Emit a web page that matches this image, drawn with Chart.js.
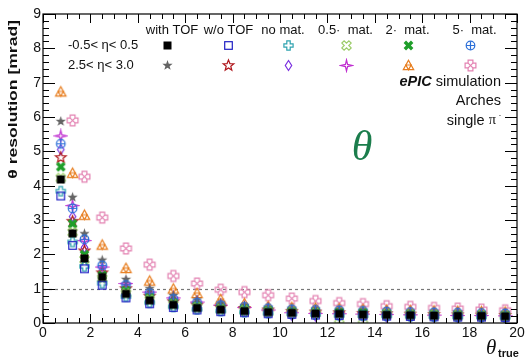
<!DOCTYPE html>
<html>
<head>
<meta charset="utf-8">
<script src="https://cdn.jsdelivr.net/npm/chart.js@4.4.0/dist/chart.umd.min.js"></script>
<style>
  html, body { margin: 0; padding: 0; background: #fff; }
  #wrap { width: 528px; height: 358px; }
</style>
</head>
<body>
<div id="wrap"><canvas id="chart" width="528" height="358"></canvas></div>
<script>
// theta_true bin centres
const thetaTrue = [0.75, 1.25, 1.75, 2.5, 3.5, 4.5, 5.5, 6.5, 7.5, 8.5, 9.5, 10.5, 11.5, 12.5, 13.5, 14.5, 15.5, 16.5, 17.5, 18.5, 19.5];

// -0.5 < eta < 0.5
const cenWithTof = [4.18, 2.61, 1.88, 1.34, 0.85, 0.66, 0.53, 0.44, 0.39, 0.35, 0.32, 0.30, 0.28, 0.27, 0.25, 0.24, 0.23, 0.22, 0.21, 0.21, 0.20];
const cenNoTof   = [3.70, 2.26, 1.58, 1.10, 0.73, 0.56, 0.45, 0.38, 0.33, 0.30, 0.27, 0.25, 0.23, 0.22, 0.21, 0.20, 0.19, 0.18, 0.17, 0.17, 0.16];
const cenNoMat   = [3.84, 2.36, 1.65, 1.16, 0.77, 0.59, 0.47, 0.40, 0.35, 0.32, 0.29, 0.27, 0.25, 0.23, 0.22, 0.21, 0.20, 0.19, 0.18, 0.18, 0.17];
const cenHalfMat = [4.22, 2.64, 1.85, 1.30, 0.86, 0.67, 0.53, 0.45, 0.39, 0.36, 0.32, 0.30, 0.28, 0.11, 0.10, 0.25, 0.23, 0.22, 0.21, 0.21, 0.20];
const cenTwoMat  = [4.55, 2.89, 1.99, 1.39, 0.94, 0.73, 0.58, 0.49, 0.43, 0.40, 0.36, 0.33, 0.31, 0.30, 0.29, 0.27, 0.26, 0.25, 0.24, 0.23, 0.22];
const cenFiveMat = [5.22, 3.34, 2.44, 1.68, 1.11, 0.87, 0.70, 0.59, 0.52, 0.47, 0.43, 0.40, 0.38, 0.37, 0.35, 0.33, 0.32, 0.31, 0.30, 0.29, 0.28];

// 2.5 < eta < 3.0
const fwdWithTof = [5.87, 3.66, 2.60, 1.83, 1.27, 1.00, 0.80, 0.67, 0.58, 0.50, 0.45, 0.42, 0.40, 0.38, 0.36, 0.34, 0.33, 0.32, 0.31, 0.30, 0.29];
const fwdNoTof   = [4.82, 2.96, 2.10, 1.46, 1.00, 0.78, 0.62, 0.52, 0.46, 0.42, 0.38, 0.34, 0.32, 0.30, 0.28, 0.27, 0.26, 0.25, 0.24, 0.23, 0.22];
const fwdNoMat   = [5.05, 3.10, 2.20, 1.54, 1.05, 0.82, 0.66, 0.55, 0.46, 0.38, 0.30, 0.22, 0.20, 0.19, 0.18, 0.17, 0.17, 0.16, 0.16, 0.15, 0.15];
const fwdHalfMat = [5.45, 3.42, 2.40, 1.63, 1.15, 0.90, 0.73, 0.61, 0.52, 0.45, 0.38, 0.30, 0.28, 0.27, 0.26, 0.25, 0.24, 0.23, 0.22, 0.22, 0.21];
const fwdTwoMat  = [6.73, 4.36, 3.14, 2.27, 1.59, 1.22, 0.99, 0.86, 0.68, 0.56, 0.48, 0.45, 0.43, 0.41, 0.39, 0.37, 0.36, 0.35, 0.34, 0.33, 0.32];
const fwdFiveMat = [null, 5.90, 4.26, 3.07, 2.17, 1.70, 1.37, 1.15, 0.97, 0.90, 0.81, 0.71, 0.64, 0.58, 0.55, 0.49, 0.47, 0.44, 0.42, 0.39, 0.37];

const xLabels = [0, 2, 4, 6, 8, 10, 12, 14, 16, 18, 20];
const yLabels = [0, 1, 2, 3, 4, 5, 6, 7, 8, 9];
const columnNames = ["with TOF", "w/o TOF", "no mat.", "0.5\u00b7  mat.", "2\u00b7  mat.", "5\u00b7  mat."];
const rowNames = ["-0.5< \u03b7< 0.5", "2.5< \u03b7< 3.0"];

// ---- ROOT-like markers drawn on small canvases ----
function marker(draw) {
  const size = 15;
  const c = document.createElement("canvas");
  c.width = size;
  c.height = size;
  const g = c.getContext("2d");
  g.translate(size / 2, size / 2);
  g.lineWidth = 1.2;
  g.lineJoin = "miter";
  draw(g);
  return c;
}

function path(g, pts) {
  g.beginPath();
  pts.forEach(([x, y], i) => (i ? g.lineTo(x, y) : g.moveTo(x, y)));
  g.closePath();
}

function plusPts(r, a) {
  return [[-a, -r], [a, -r], [a, -a], [r, -a], [r, a], [a, a], [a, r], [-a, r], [-a, a], [-r, a], [-r, -a], [-a, -a]];
}

function rotPts(pts, ang) {
  const c = Math.cos(ang), s = Math.sin(ang);
  return pts.map(([x, y]) => [x * c - y * s, x * s + y * c]);
}

function starPts(n, ro, ri) {
  const pts = [];
  for (let i = 0; i < n * 2; i++) {
    const r = i % 2 ? ri : ro;
    const a = -Math.PI / 2 + (i * Math.PI) / n;
    pts.push([r * Math.cos(a), r * Math.sin(a)]);
  }
  return pts;
}

const mk = {
  fullSquare: marker((g) => { g.fillStyle = "#000"; g.fillRect(-4, -4, 8, 8); }),
  openSquare: marker((g) => { g.strokeStyle = "#1f1fc4"; g.strokeRect(-3.8, -3.8, 7.6, 7.6); }),
  openCross: marker((g) => { g.strokeStyle = "#2fa3b0"; path(g, plusPts(4.6, 1.7)); g.stroke(); }),
  openCrossX: marker((g) => { g.strokeStyle = "#9ccc6a"; path(g, rotPts(plusPts(5, 1.6), Math.PI / 4)); g.stroke(); }),
  fullCrossX: marker((g) => { g.fillStyle = "#1f9e2a"; path(g, rotPts(plusPts(5.2, 1.7), Math.PI / 4)); g.fill(); }),
  circlePlus: marker((g) => {
    g.strokeStyle = "#2c6fd8";
    g.beginPath(); g.arc(0, 0, 4.3, 0, Math.PI * 2); g.stroke();
    g.beginPath(); g.moveTo(-4.3, 0); g.lineTo(4.3, 0); g.moveTo(0, -4.3); g.lineTo(0, 4.3); g.stroke();
  }),
  fullStar: marker((g) => { g.fillStyle = "#646464"; path(g, starPts(5, 5.4, 2.2)); g.fill(); }),
  openStar: marker((g) => { g.strokeStyle = "#b0171d"; path(g, starPts(5, 5.6, 2.4)); g.stroke(); }),
  openDiamond: marker((g) => { g.strokeStyle = "#7a2fe0"; path(g, [[0, -5], [3.2, 0], [0, 5], [-3.2, 0]]); g.stroke(); }),
  openStar4: marker((g) => { g.strokeStyle = "#c02fd0"; path(g, starPts(4, 5.6, 1.5)); g.stroke(); }),
  triTriangle: marker((g) => {
    g.strokeStyle = "#e77d1e";
    path(g, [[0, -5.2], [5.2, 4.2], [-5.2, 4.2]]); g.stroke();
    path(g, [[-2.6, -0.5], [2.6, -0.5], [0, 4.2]]); g.stroke();
  }),
  crossSquare: marker((g) => {
    g.strokeStyle = "#e382b2";
    path(g, plusPts(5.4, 2.4)); g.stroke();
    g.beginPath(); g.moveTo(-2.4, -2.4); g.lineTo(2.4, 2.4); g.moveTo(2.4, -2.4); g.lineTo(-2.4, 2.4); g.stroke();
  }),
};

const rows = [
  [cenWithTof, mk.fullSquare], [cenNoTof, mk.openSquare], [cenNoMat, mk.openCross],
  [cenHalfMat, mk.openCrossX], [cenTwoMat, mk.fullCrossX], [cenFiveMat, mk.circlePlus],
  [fwdWithTof, mk.fullStar], [fwdNoTof, mk.openStar], [fwdNoMat, mk.openDiamond],
  [fwdHalfMat, mk.openStar4], [fwdTwoMat, mk.triTriangle], [fwdFiveMat, mk.crossSquare],
];

const datasets = rows.map(([vals, style]) => ({
  data: thetaTrue.map((x, i) => ({ x: x, y: vals[i] })),
  pointStyle: style,
  showLine: false,
}));

const FONT = "'Liberation Sans', Arial, sans-serif";
const SERIF = "'Liberation Serif', 'Times New Roman', serif";

const rootStyle = {
  id: "rootStyle",
  beforeDatasetsDraw(chart) {
    const { ctx, chartArea: a, scales } = chart;
    const y1 = Math.round(scales.y.getPixelForValue(1)) + 0.5;
    ctx.save();
    ctx.strokeStyle = "#777";
    ctx.lineWidth = 1.2;
    ctx.setLineDash([3, 3]);
    ctx.beginPath();
    ctx.moveTo(a.left, y1);
    ctx.lineTo(a.right, y1);
    ctx.stroke();
    ctx.restore();
  },
  afterDraw(chart) {
    const { ctx, chartArea: a, scales } = chart;
    const xs = scales.x, ys = scales.y;
    ctx.save();

    // frame
    ctx.strokeStyle = "#000";
    ctx.lineWidth = 1.2;
    ctx.strokeRect(a.left, a.top, a.right - a.left, a.bottom - a.top);

    // ticks, pointing inward
    ctx.lineWidth = 1;
    ctx.beginPath();
    for (let v = 0; v <= 20.001; v += 0.5) {
      const px = Math.round(xs.getPixelForValue(v)) + 0.5;
      const major = Math.abs(v / 2 - Math.round(v / 2)) < 1e-6;
      const len = major ? 9 : 5;
      ctx.moveTo(px, a.bottom); ctx.lineTo(px, a.bottom - len);
      ctx.moveTo(px, a.top); ctx.lineTo(px, a.top + len);
    }
    for (let v = 0; v <= 9.001; v += 0.2) {
      const py = Math.round(ys.getPixelForValue(v)) + 0.5;
      const major = Math.abs(v - Math.round(v)) < 1e-6;
      const len = major ? 12 : 6;
      ctx.moveTo(a.left, py); ctx.lineTo(a.left + len, py);
      ctx.moveTo(a.right, py); ctx.lineTo(a.right - len, py);
    }
    ctx.stroke();

    // tick labels
    ctx.fillStyle = "#111";
    ctx.font = "14px " + FONT;
    ctx.textAlign = "center";
    ctx.textBaseline = "alphabetic";
    xLabels.forEach((v) => ctx.fillText(String(v), xs.getPixelForValue(v), a.bottom + 14));
    ctx.textAlign = "right";
    ctx.textBaseline = "middle";
    yLabels.forEach((v) => ctx.fillText(String(v), a.left - 2, ys.getPixelForValue(v)));

    // y title
    ctx.save();
    ctx.translate(13, a.top + 6);
    ctx.rotate(-Math.PI / 2);
    ctx.scale(1.35, 1);
    ctx.textAlign = "right";
    ctx.textBaseline = "middle";
    ctx.font = "bold 13px " + FONT;
    ctx.fillText("\u03b8 resolution [mrad]", 0, 0);
    ctx.restore();

    // x title
    ctx.textAlign = "left";
    ctx.textBaseline = "alphabetic";
    ctx.font = "italic 21px " + SERIF;
    ctx.fillText("\u03b8", 486, 354);
    ctx.font = "bold 11px " + FONT;
    ctx.fillText("true", 498, 357);

    // legend grid
    const colX = [167.7, 228, 288, 346, 408, 470.7];
    const headX = [172, 228.5, 283, 345.5, 407.5, 474.5];
    const rowY = [45.7, 65];
    ctx.font = "13px " + FONT;
    ctx.textAlign = "center";
    ctx.textBaseline = "middle";
    columnNames.forEach((t, i) => ctx.fillText(t, headX[i], 30.5));
    ctx.textAlign = "left";
    rowNames.forEach((t, j) => ctx.fillText(t, 68, rowY[j]));
    rows.forEach(([, style], k) => {
      const j = k < 6 ? 0 : 1;
      const i = k % 6;
      ctx.drawImage(style, Math.round(colX[i] - style.width / 2), Math.round(rowY[j] - style.height / 2));
    });

    // simulation label
    ctx.textAlign = "right";
    ctx.font = "14.5px " + FONT;
    const simW = ctx.measureText(" simulation").width;
    ctx.fillText(" simulation", 501, 82);
    ctx.font = "italic bold 14.5px " + FONT;
    ctx.fillText("ePIC", 501 - simW, 82);
    ctx.font = "14.5px " + FONT;
    ctx.fillText("Arches", 501, 100.5);
    ctx.font = "7px " + FONT;
    ctx.fillText("-", 501, 115);
    ctx.font = "14.5px " + SERIF;
    ctx.fillText("\u03c0", 496, 120.5);
    const piW = ctx.measureText("\u03c0").width;
    ctx.font = "14.5px " + FONT;
    ctx.fillText("single ", 496 - piW, 120.5);

    // big theta
    ctx.fillStyle = "#1b7d4c";
    ctx.textAlign = "center";
    ctx.font = "italic 42px " + SERIF;
    ctx.fillText("\u03b8", 362, 149);

    ctx.restore();
  },
};

new Chart(document.getElementById("chart"), {
  type: "scatter",
  data: { datasets: datasets },
  options: {
    responsive: false,
    animation: false,
    layout: { padding: { left: 43, right: 11, top: 14, bottom: 35 } },
    plugins: { legend: { display: false }, tooltip: { enabled: false } },
    scales: {
      x: { type: "linear", min: 0, max: 20, display: false },
      y: { type: "linear", min: 0, max: 9, display: false },
    },
  },
  plugins: [rootStyle],
});
</script>
</body>
</html>
